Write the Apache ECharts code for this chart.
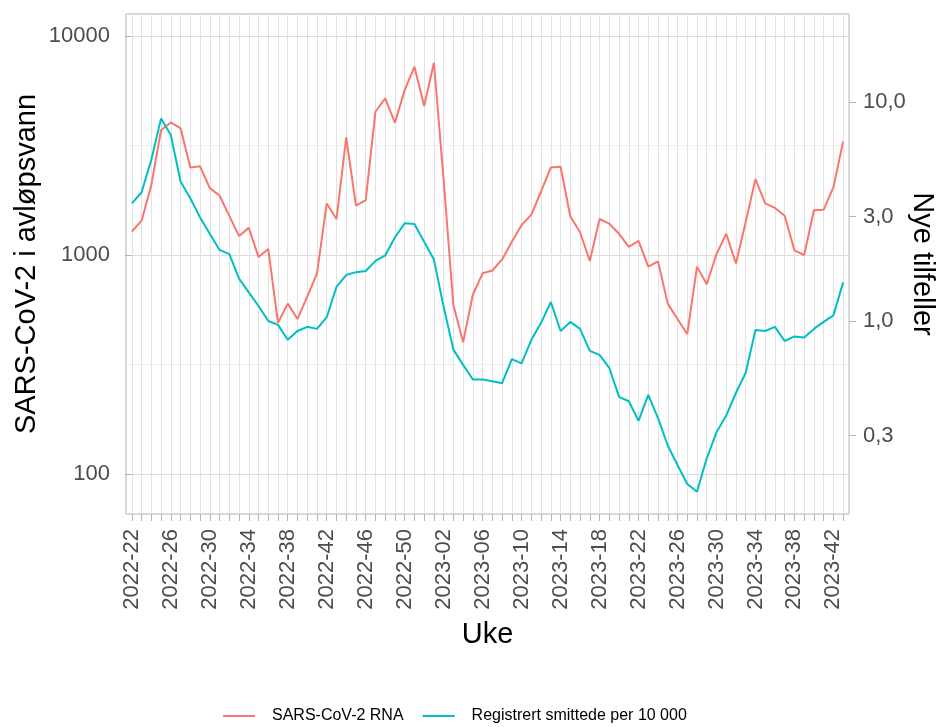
<!DOCTYPE html>
<html>
<head>
<meta charset="utf-8">
<script src="https://cdn.jsdelivr.net/npm/echarts@6/dist/echarts.min.js"></script>
<style>
  html, body { margin: 0; padding: 0; background: #fff; }
  #chart { width: 938px; height: 727px; }
</style>
</head>
<body>
<div id="chart"></div>
<script>
// uker (x-akse)
const weeks = [
  '2022-22', '2022-23', '2022-24', '2022-25', '2022-26', '2022-27', '2022-28', '2022-29', '2022-30', '2022-31',
  '2022-32', '2022-33', '2022-34', '2022-35', '2022-36', '2022-37', '2022-38', '2022-39', '2022-40', '2022-41',
  '2022-42', '2022-43', '2022-44', '2022-45', '2022-46', '2022-47', '2022-48', '2022-49', '2022-50', '2022-51',
  '2022-52', '2023-01', '2023-02', '2023-03', '2023-04', '2023-05', '2023-06', '2023-07', '2023-08', '2023-09',
  '2023-10', '2023-11', '2023-12', '2023-13', '2023-14', '2023-15', '2023-16', '2023-17', '2023-18', '2023-19',
  '2023-20', '2023-21', '2023-22', '2023-23', '2023-24', '2023-25', '2023-26', '2023-27', '2023-28', '2023-29',
  '2023-30', '2023-31', '2023-32', '2023-33', '2023-34', '2023-35', '2023-36', '2023-37', '2023-38', '2023-39',
  '2023-40', '2023-41', '2023-42', '2023-43'
]

// SARS-CoV-2 RNA i avløpsvann (venstre akse)
const rna = [
  1280, 1435, 2090, 3720, 4030, 3790, 2510, 2540, 2020, 1870,
  1510, 1220, 1330, 980, 1065, 490, 600, 510, 645, 825,
  1720, 1460, 3440, 1680, 1780, 4510, 5190, 4020, 5660, 7240,
  4790, 7550, 2200, 590, 400, 660, 825, 850, 955, 1150,
  1370, 1530, 1950, 2510, 2530, 1500, 1270, 940, 1460, 1390,
  1250, 1090, 1160, 885, 935, 600, 510, 435, 885, 735,
  1010, 1250, 915, 1420, 2220, 1720, 1640, 1510, 1050, 1000,
  1600, 1610, 2040, 3300
]

// registrerte smittede per 10 000 (høyre akse)
const cases = [
  3.44, 3.87, 5.44, 8.41, 7.06, 4.33, 3.63, 2.97, 2.50, 2.11,
  2.02, 1.56, 1.35, 1.17, 1.00, 0.96, 0.82, 0.90, 0.94, 0.92,
  1.04, 1.43, 1.62, 1.67, 1.69, 1.88, 1.99, 2.41, 2.79, 2.77,
  2.30, 1.91, 1.16, 0.74, 0.63, 0.54, 0.54, 0.53, 0.52, 0.67,
  0.64, 0.82, 0.98, 1.22, 0.90, 0.99, 0.92, 0.73, 0.70, 0.61,
  0.45, 0.43, 0.35, 0.46, 0.36, 0.27, 0.22, 0.18, 0.166, 0.236,
  0.31, 0.37, 0.47, 0.58, 0.91, 0.90, 0.94, 0.81, 0.85, 0.84,
  0.92, 0.99, 1.06, 1.50
]

const leftTicks = [100, 1000, 10000]
const leftMinor = [316.23, 3162.3]
const rightTicks = [0.3, 1, 3, 10]

const FONT = 'Liberation Sans, Arial, sans-serif'
const tickIdx = weeks.map((_, i) => i)
const labelIdx = tickIdx.filter(i => i % 4 === 0)

const chart = echarts.init(document.getElementById('chart'))

chart.setOption({
  animation: false,
  textStyle: { fontFamily: FONT },
  grid: {
    left: 126,
    top: 14,
    right: 89,
    bottom: 213,
    show: true,
    borderColor: '#b3b3b3',
    borderWidth: 1,
    backgroundColor: 'transparent',
    containLabel: false,
    outerBoundsMode: 'none'
  },
  legend: {
    left: 223,
    top: 708,
    padding: 0,
    icon: 'rect',
    itemWidth: 32,
    itemHeight: 2,
    itemGap: 19,
    textStyle: { fontSize: 16, color: '#000', fontFamily: FONT, padding: [0, 0, 0, 12] },
    data: ['SARS-CoV-2 RNA', 'Registrert smittede per 10 000']
  },
  xAxis: {
    type: 'value',
    min: -0.6,
    max: 73.6,
    name: 'Uke',
    nameLocation: 'middle',
    nameGap: 106,
    nameMoveOverlap: false,
    nameTextStyle: { fontSize: 29, color: '#000', fontFamily: FONT },
    axisLine: { show: false },
    axisTick: {
      show: true,
      length: 7,
      customValues: tickIdx,
      lineStyle: { color: '#b3b3b3' }
    },
    axisLabel: {
      customValues: labelIdx,
      rotate: 90,
      margin: 15,
      fontSize: 22,
      color: '#4d4d4d',
      fontFamily: FONT,
      formatter: v => weeks[Math.round(v)]
    },
    splitLine: { show: true, lineStyle: { color: '#e3e3e3', width: 1 } }
  },
  yAxis: [
    {
      type: 'log',
      logBase: 10,
      min: 65.7,
      max: 12600,
      position: 'left',
      name: 'SARS-CoV-2 i avløpsvann',
      nameLocation: 'middle',
      nameRotate: 90,
      nameGap: 85,
      nameMoveOverlap: false,
      nameTextStyle: { fontSize: 29, color: '#000', fontFamily: FONT },
      axisLine: { show: false },
      axisTick: { show: true, length: 7, customValues: leftTicks, lineStyle: { color: '#b3b3b3' } },
      axisLabel: {
        customValues: leftTicks,
        margin: 16,
        fontSize: 22,
        color: '#4d4d4d',
        fontFamily: FONT,
        formatter: v => String(Math.round(v))
      },
      splitLine: { show: true, lineStyle: { color: '#dedede', width: 1 } }
    },
    {
      type: 'log',
      logBase: 10,
      min: 0.1314,
      max: 25.2,
      position: 'right',
      name: 'Nye tilfeller',
      nameLocation: 'middle',
      nameRotate: -90,
      nameGap: 58,
      nameMoveOverlap: false,
      nameTextStyle: { fontSize: 29, color: '#000', fontFamily: FONT },
      axisLine: { show: false },
      axisTick: { show: true, length: 7, customValues: rightTicks, lineStyle: { color: '#b3b3b3' } },
      axisLabel: {
        customValues: rightTicks,
        margin: 14,
        fontSize: 22,
        color: '#4d4d4d',
        fontFamily: FONT,
        formatter: v => v.toFixed(1).replace('.', ',')
      },
      splitLine: { show: false }
    },
    {
      // bare for de svake mellomlinjene
      type: 'log',
      logBase: 10,
      min: 65.7,
      max: 12600,
      position: 'left',
      axisLine: { show: false },
      axisTick: { show: false, customValues: leftMinor },
      axisLabel: { show: false },
      splitLine: { show: true, lineStyle: { color: '#f2f2f2', width: 1 } }
    }
  ],
  series: [
    {
      name: 'SARS-CoV-2 RNA',
      type: 'line',
      yAxisIndex: 0,
      symbol: 'none',
      lineStyle: { color: '#F8766D', width: 2 },
      itemStyle: { color: '#F8766D' },
      data: rna.map((v, i) => [i, v])
    },
    {
      name: 'Registrert smittede per 10 000',
      type: 'line',
      yAxisIndex: 1,
      symbol: 'none',
      lineStyle: { color: '#00BFC4', width: 2 },
      itemStyle: { color: '#00BFC4' },
      data: cases.map((v, i) => [i, v])
    }
  ]
})
</script>
</body>
</html>
